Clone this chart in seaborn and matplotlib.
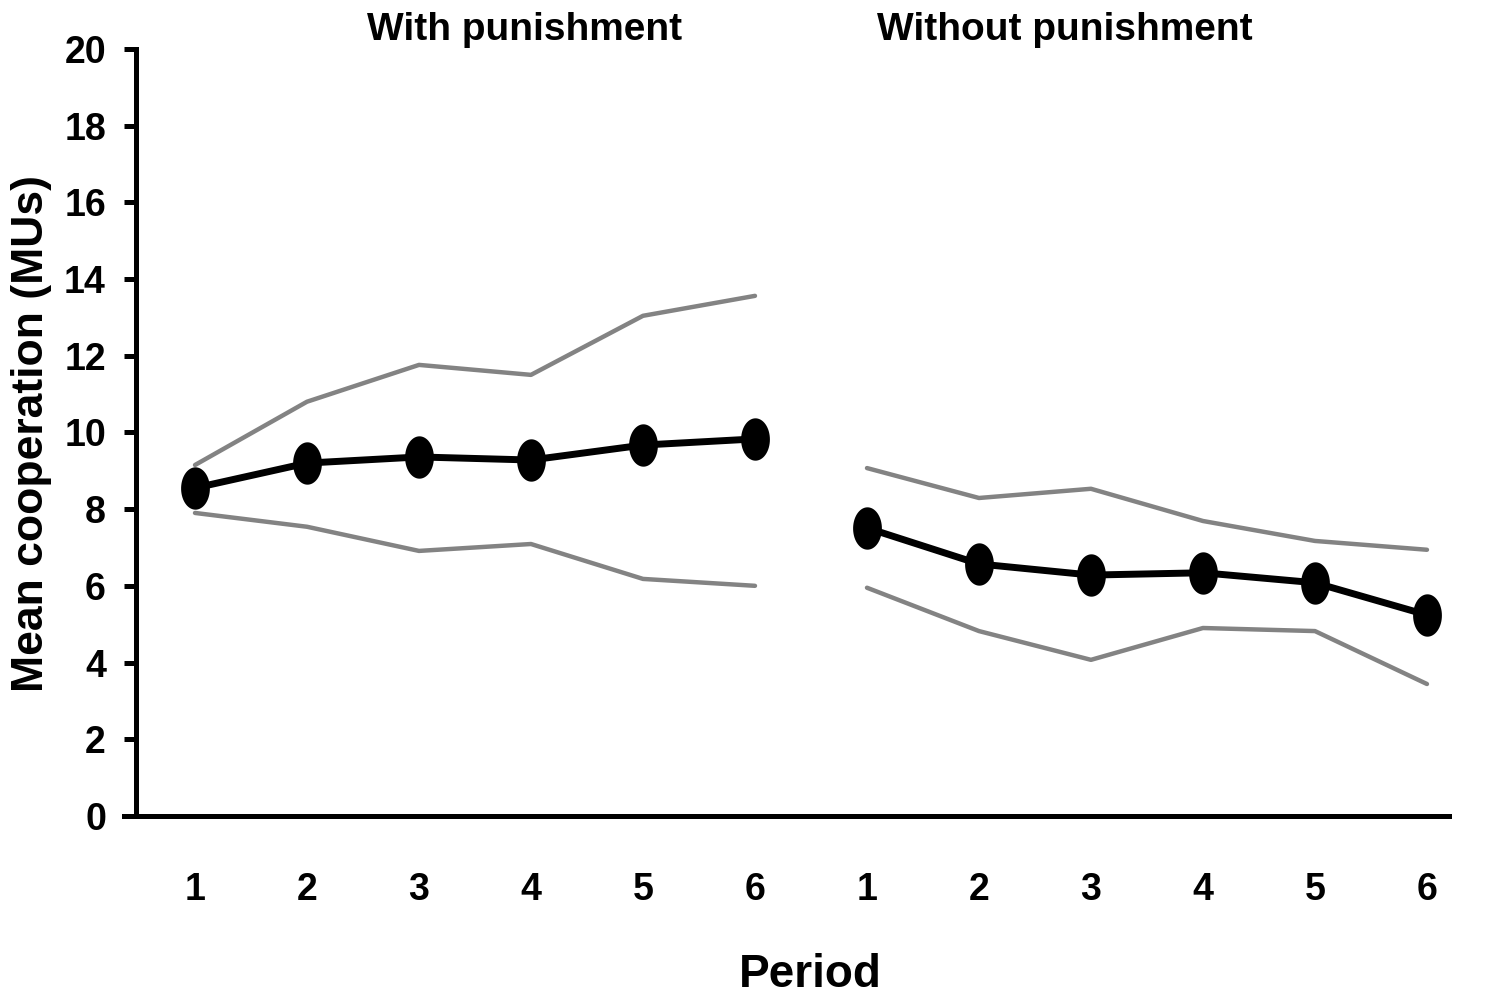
import numpy as np
import pandas as pd
import matplotlib

matplotlib.use("Agg")
import matplotlib.pyplot as plt
import seaborn as sns

sns.set_style("white")
plt.rcParams["font.family"] = ["Liberation Sans", "DejaVu Sans"]
plt.rcParams["font.weight"] = "bold"
plt.rcParams["text.color"] = "black"

# data
periods = [1, 2, 3, 4, 5, 6]
conditions = ["With punishment", "Without punishment"]

mean_with = [8.55, 9.2, 9.36, 9.28, 9.67, 9.83]
upper_with = [9.15, 10.8, 11.76, 11.5, 13.04, 13.56]
lower_with = [7.9, 7.54, 6.91, 7.09, 6.18, 6.0]

mean_without = [7.51, 6.57, 6.28, 6.34, 6.08, 5.24]
upper_without = [9.07, 8.29, 8.53, 7.69, 7.17, 6.94]
lower_without = [5.95, 4.82, 4.07, 4.9, 4.82, 3.44]

rows = []
for i, (cond, m, u, l) in enumerate(zip(
        conditions,
        [mean_with, mean_without],
        [upper_with, upper_without],
        [lower_with, lower_without])):
    for j, p in enumerate(periods):
        rows.append({"condition": cond, "period": p, "pos": i * len(periods) + p,
                     "mean": m[j], "upper": u[j], "lower": l[j]})
df = pd.DataFrame(rows)

# slightly tall ellipse marker like in the original
t = np.linspace(0, 2 * np.pi, 64)
ellipse = np.column_stack([0.34 * np.cos(t), 0.5 * np.sin(t)])

fig = plt.figure(figsize=(14.85, 9.97), dpi=100)
ax = fig.add_axes([0.0835, 0.1816, 0.8925, 0.7694])

for cond in conditions:
    d = df[df["condition"] == cond]
    sns.lineplot(data=d, x="pos", y="upper", color="#838383", lw=3.2, ax=ax)
    sns.lineplot(data=d, x="pos", y="lower", color="#838383", lw=3.2, ax=ax)
    sns.lineplot(data=d, x="pos", y="mean", color="black", lw=5.0, ax=ax,
                 marker=ellipse, markersize=30.5, markeredgewidth=0,
                 markerfacecolor="black")

ax.set_xlim(0.366, 12.2)
ax.set_ylim(0, 20)
ax.set_yticks(range(0, 21, 2))
ax.set_xticks(df["pos"])
ax.set_xticklabels(df["period"].astype(str))

for s in ["top", "right"]:
    ax.spines[s].set_visible(False)
ax.spines["left"].set_position(("data", 0.473))
ax.spines["left"].set_linewidth(3.6)
ax.spines["bottom"].set_linewidth(3.6)
ax.spines["left"].set_color("black")
ax.spines["bottom"].set_color("black")

ax.tick_params(axis="y", direction="out", length=8.6, width=3.6,
               labelsize=27, pad=13, left=True, colors="black")
ax.tick_params(axis="x", length=0, labelsize=27, pad=40, colors="black")
for lab in ax.get_xticklabels() + ax.get_yticklabels():
    lab.set_fontweight("bold")

ax.set_xlabel("")
ax.set_ylabel("")
fig.text(0.5455, 0.022, "Period", ha="center", va="center",
         fontsize=33, fontweight="bold", color="black")
fig.text(0.021, 0.565, "Mean cooperation (MUs)", ha="center", va="center",
         rotation=90, fontsize=32, fontweight="bold", color="black")
fig.text(0.3535, 0.97, "With punishment", ha="center", va="center",
         fontsize=28, fontweight="bold", color="black")
fig.text(0.717, 0.97, "Without punishment", ha="center", va="center",
         fontsize=28, fontweight="bold", color="black")

fig.savefig("out.png", dpi=100)
